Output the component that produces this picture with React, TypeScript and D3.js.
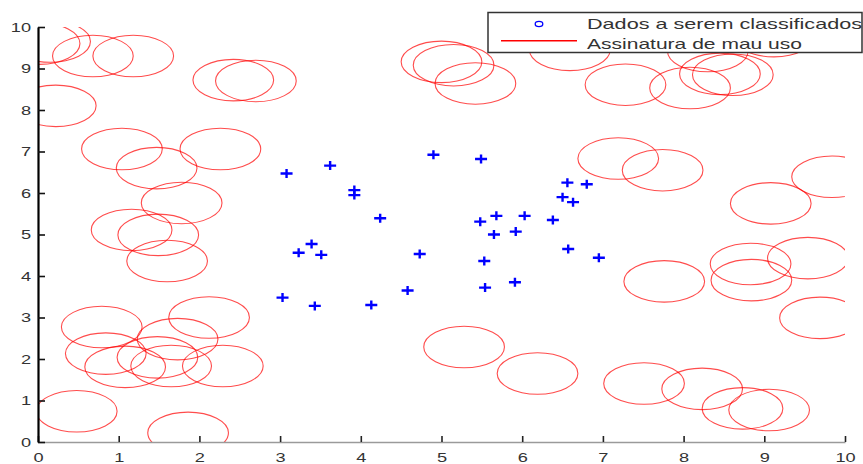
import * as d3 from 'd3';
import React, { useRef, useEffect } from 'react';

// axis ticks
const xTicks = [0, 1, 2, 3, 4, 5, 6, 7, 8, 9, 10];
const yTicks = [0, 1, 2, 3, 4, 5, 6, 7, 8, 9, 10];

const legendLabels = ["Dados a serem classificados", "Assinatura de mau uso"];

// "assinaturas de mau uso" - circle centres, radius in data units
const sigRadius = 0.5;
const sigX = [0.02, 0.15, 0.68, 1.18, 2.42, 2.70, 0.22, 1.04, 1.47, 2.26, 1.78, 1.16, 1.49, 1.60,
    0.79, 0.84, 1.08, 1.48, 1.65, 1.73, 2.29, 2.12, 0.48, 1.86,
    5.00, 5.15, 5.42, 6.59, 7.28, 8.08, 8.45, 8.61, 8.30, 9.12,
    7.19, 7.74, 9.08, 9.84, 7.76, 8.83, 8.84, 9.54, 9.69, 7.51, 8.23, 8.73, 9.06, 5.28, 6.19];
const sigY = [9.60, 9.65, 9.30, 9.30, 8.72, 8.70, 8.10, 7.06, 6.60, 7.06, 5.76, 5.11, 4.99, 4.36,
    2.77, 2.13, 1.81, 2.04, 1.83, 2.48, 1.83, 3.00, 0.74, 0.22,
    9.16, 9.08, 8.64, 9.45, 8.61, 8.53, 8.87, 8.85, 9.42, 9.78,
    6.83, 6.55, 5.75, 6.39, 3.87, 4.29, 3.90, 4.43, 2.99, 1.41, 1.28, 0.81, 0.77, 2.29, 1.65];

// "dados a serem classificados"
const dataX = [3.08, 3.62, 3.92, 3.92, 4.24, 4.90, 5.49, 6.56, 6.50, 6.63, 5.48, 5.68, 6.03, 6.38, 5.65,
    5.92, 6.80, 6.57, 6.95, 3.03, 3.39, 3.23, 3.51, 3.43, 4.13, 4.58, 4.73, 5.53, 5.54, 5.91];
const dataY = [6.47, 6.66, 6.07, 5.95, 5.39, 6.92, 6.82, 6.25, 5.90, 5.78, 5.31, 5.45, 5.45, 5.35, 5.00,
    5.07, 6.21, 4.65, 4.44, 3.48, 4.77, 4.56, 4.51, 3.28, 3.30, 3.65, 4.53, 4.36, 3.72, 3.85];

function ScatterChart({ width, height }: { width: number; height: number }) {
    const ref = useRef<SVGSVGElement>(null);

    useEffect(() => {
        draw();
    }, []);

    const draw = () => {
        const svg = d3.select(ref.current);
        svg.selectAll("*").remove();

        var margin = { top: 27, right: 18, bottom: 22, left: 38 };
        var width_plot = width - margin.left - margin.right;
        var height_plot = height - margin.top - margin.bottom;

        var x = d3.scaleLinear().domain([0, 10]).range([0, width_plot]);
        var y = d3.scaleLinear().domain([0, 10]).range([height_plot, 0]);

        svg.attr("width", width).attr("height", height);

        svg.append("defs").append("clipPath")
            .attr("id", "plot-clip")
            .append("rect")
            .attr("x", 0)
            .attr("y", 0)
            .attr("width", width_plot)
            .attr("height", height_plot);

        var g = svg.append("g")
            .attr("transform", "translate(" + margin.left + "," + margin.top + ")");

        // red circles (stretched into ellipses by the axes)
        g.append("g")
            .attr("clip-path", "url(#plot-clip)")
            .selectAll("ellipse")
            .data(d3.range(sigX.length))
            .enter()
            .append("ellipse")
            .attr("cx", function (i) { return x(sigX[i]); })
            .attr("cy", function (i) { return y(sigY[i]); })
            .attr("rx", x(sigRadius) - x(0))
            .attr("ry", y(0) - y(sigRadius))
            .attr("fill", "none")
            .attr("stroke", "#ff0000")
            .attr("stroke-opacity", 0.7)
            .attr("stroke-width", 1.1);

        // blue + markers
        g.append("g")
            .selectAll("path")
            .data(d3.range(dataX.length))
            .enter()
            .append("path")
            .attr("transform", function (i) { return "translate(" + x(dataX[i]) + "," + y(dataY[i]) + ")"; })
            .attr("d", "M-6,0H6M0,-4.5V4.5")
            .attr("stroke", "#0000ff")
            .attr("stroke-width", 2.4)
            .attr("fill", "none");

        // x axis
        var xAxis = g.append("g")
            .attr("transform", "translate(0," + height_plot + ")")
            .call(d3.axisBottom(x).tickValues(xTicks).tickSize(-6).tickSizeOuter(0).tickPadding(11));
        xAxis.select(".domain").attr("stroke", "#9a9a9a").attr("stroke-width", 1.6);
        xAxis.selectAll(".tick line").attr("stroke", "#222").attr("stroke-width", 1.6);
        xAxis.selectAll(".tick text")
            .attr("transform", "scale(1.4,1)")
            .attr("fill", "#333")
            .style("font-family", "'Liberation Sans', Arial, sans-serif")
            .style("font-size", "13px");

        // y axis
        var yAxis = g.append("g")
            .call(d3.axisLeft(y).tickValues(yTicks).tickSize(-7).tickSizeOuter(0).tickPadding(5));
        yAxis.select(".domain").attr("stroke", "#000").attr("stroke-width", 2.2);
        yAxis.selectAll(".tick line").attr("stroke", "#111").attr("stroke-width", 1.6);
        yAxis.selectAll(".tick text")
            .attr("transform", "scale(1.4,1)")
            .attr("fill", "#333")
            .style("font-family", "'Liberation Sans', Arial, sans-serif")
            .style("font-size", "13px");

        // legend
        var legend = svg.append("g")
            .attr("transform", "translate(488,12.5)");

        legend.append("rect")
            .attr("width", 374)
            .attr("height", 40)
            .attr("fill", "white")
            .attr("stroke", "#333")
            .attr("stroke-width", 1.5);

        legend.append("ellipse")
            .attr("cx", 51)
            .attr("cy", 11.5)
            .attr("rx", 3.8)
            .attr("ry", 2.6)
            .attr("fill", "none")
            .attr("stroke", "#0000ff")
            .attr("stroke-width", 1.3);

        legend.append("line")
            .attr("x1", 13)
            .attr("x2", 89)
            .attr("y1", 28.3)
            .attr("y2", 28.3)
            .attr("stroke", "#ff0000")
            .attr("stroke-width", 1.6);

        var textLengths = [275, 215];
        legend.selectAll("text.lbl")
            .data(legendLabels)
            .enter()
            .append("text")
            .attr("class", "lbl")
            .attr("x", 99)
            .attr("y", function (d, i) { return 16.5 + i * 20; })
            .attr("textLength", function (d, i) { return textLengths[i]; })
            .attr("lengthAdjust", "spacingAndGlyphs")
            .attr("fill", "#333")
            .style("font-family", "'Liberation Sans', Arial, sans-serif")
            .style("font-size", "15px")
            .text(function (d) { return d; });
    };

    return (
        <svg ref={ref} style={{ display: "block" }}></svg>
    );
}

export default function App() {
    return (
        <div>
            <style>{"body{margin:0}"}</style>
            <ScatterChart width={863} height={464} />
        </div>
    );
}
